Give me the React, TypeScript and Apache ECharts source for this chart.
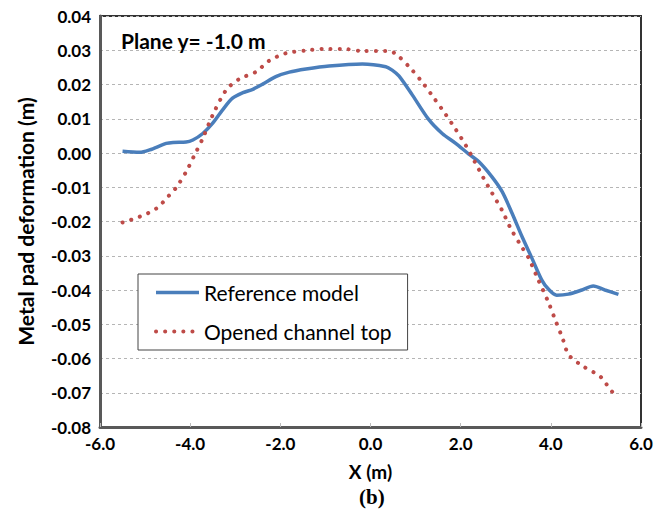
import React, { useEffect, useRef } from "react";
import * as echarts from "echarts";

const refX = [-5.5, -5.12, -4.9, -4.53, -4.38, -4.09, -3.94, -3.72, -3.5, -3.28, -3.06, -2.83, -2.61, -2.39, -2.1, -1.8, -1.43, -0.92, -0.18, 0.34, 0.48, 0.63, 0.93, 1.29, 1.59, 1.89, 2.18, 2.4, 2.69, 2.92, 3.14, 3.36, 3.58, 3.8, 3.95, 4.13, 4.39, 4.69, 4.94, 5.2, 5.5];
const refY = [0.0005, 0.0002, 0.0009, 0.0028, 0.0031, 0.0032, 0.0038, 0.0057, 0.0087, 0.0126, 0.016, 0.0176, 0.0186, 0.0201, 0.0223, 0.0236, 0.0245, 0.0254, 0.026, 0.0252, 0.0242, 0.0225, 0.0169, 0.0098, 0.0057, 0.0028, -0.0003, -0.0025, -0.0069, -0.0113, -0.0176, -0.0244, -0.0307, -0.0371, -0.0398, -0.0415, -0.0412, -0.04, -0.0388, -0.04, -0.0413];

const openX = [-5.5, -5.12, -4.75, -4.46, -4.31, -4.09, -3.9, -3.72, -3.5, -3.2, -2.91, -2.54, -2.25, -1.88, -1.43, -1.03, -0.62, -0.18, 0.41, 0.59, 0.89, 1.17, 1.41, 1.65, 1.89, 2.11, 2.31, 2.51, 2.7, 2.92, 3.1, 3.32, 3.51, 3.69, 3.95, 4.1, 4.26, 4.4, 4.73, 5.1, 5.36, 5.5];
const openY = [-0.0203, -0.0186, -0.0162, -0.0123, -0.0101, -0.0055, -0.0005, 0.0043, 0.0111, 0.0184, 0.0216, 0.0237, 0.0269, 0.0291, 0.0299, 0.0304, 0.0304, 0.0298, 0.0298, 0.0286, 0.0247, 0.0203, 0.016, 0.0116, 0.0069, 0.0023, -0.0025, -0.0074, -0.0118, -0.0168, -0.0218, -0.0267, -0.0307, -0.0361, -0.0437, -0.0488, -0.0541, -0.059, -0.0624, -0.0653, -0.0697, -0.0705];

const seriesNames = ["Reference model", "Opened channel top"];
const xTitle = "X (m)";
const yTitle = "Metal pad deformation (m)";
const planeLabel = "Plane y= -1.0 m";
const panelLabel = "(b)";

const FONT = "Lato";
const BLUE = "#4a7ebb";
const RED = "#be4b48";

export default function App() {
  const ref = useRef<HTMLDivElement>(null);
  useEffect(() => {
    if (!ref.current) return;
    const chart = echarts.init(ref.current, undefined, { renderer: "svg" });
    chart.setOption({
      animation: false,
      backgroundColor: "#ffffff",
      textStyle: { fontFamily: FONT },
      grid: {
        left: 100, top: 16, right: 18, bottom: 93,
        show: true, borderColor: "#333333", borderWidth: 2, backgroundColor: "transparent",
      },
      xAxis: {
        type: "value", min: -6, max: 6, interval: 2,
        name: xTitle, nameLocation: "middle", nameGap: 33,
        nameTextStyle: { fontFamily: FONT, fontWeight: "bold", fontSize: 19, color: "#000", lineHeight: 22 },
        axisLine: { show: true, onZero: false, lineStyle: { color: "#595959", width: 3 } },
        axisTick: { show: true, inside: true, length: 4, lineStyle: { color: "#bbbbbb", width: 1 } },
        splitLine: { show: false },
        axisLabel: {
          formatter: (v: number) => v.toFixed(1), fontFamily: FONT, fontWeight: "bold",
          fontSize: 17, color: "#000", margin: 8,
        },
      },
      yAxis: {
        type: "value", min: -0.08, max: 0.04, interval: 0.01,
        name: yTitle, nameLocation: "middle", nameGap: 64, nameRotate: 90,
        nameTextStyle: { fontFamily: FONT, fontWeight: "bold", fontSize: 21, color: "#000" },
        axisLine: { show: true, onZero: false, lineStyle: { color: "#595959", width: 3 } },
        axisTick: { show: false },
        splitLine: { show: true, lineStyle: { color: "#b5b5b5", type: [3, 3], width: 1 } },
        axisLabel: {
          formatter: (v: number) => v.toFixed(2), fontFamily: FONT, fontWeight: "bold",
          fontSize: 17, color: "#000", margin: 9,
        },
      },
      legend: {
        orient: "vertical", left: 138, top: 274,
        backgroundColor: "#fff", borderColor: "#444", borderWidth: 1,
        padding: [8, 16, 8, 16], itemGap: 18, itemWidth: 43, itemHeight: 14,
        itemStyle: { opacity: 0 },
        textStyle: { fontFamily: FONT, fontSize: 21, color: "#000" },
        data: [
          { name: seriesNames[0], lineStyle: { color: BLUE, width: 3.5, type: "solid" } },
          { name: seriesNames[1], lineStyle: { color: RED, width: 4, type: [0.1, 9], cap: "round" } },
        ],
      },
      graphic: [
        {
          type: "text", left: 121, top: 30,
          style: { text: planeLabel, fontFamily: FONT, fontWeight: "bold", fontSize: 21, fill: "#000" },
        },
        {
          type: "text", left: 359, top: 486,
          style: { text: panelLabel, fontFamily: "Liberation Serif", fontWeight: "bold", fontSize: 21, fill: "#000", lineHeight: 20 },
        },
      ],
      series: [
        {
          name: seriesNames[0], type: "line", symbol: "none", smooth: 0.3,
          data: refX.map((x, i) => [x, refY[i]]),
          lineStyle: { color: BLUE, width: 3.5 },
          itemStyle: { color: BLUE },
          z: 3,
        },
        {
          name: seriesNames[1], type: "line", symbol: "none", smooth: 0.3,
          data: openX.map((x, i) => [x, openY[i]]),
          lineStyle: { color: RED, width: 4, type: [0.1, 9], cap: "round" },
          itemStyle: { color: RED },
          z: 4,
        },
      ],
    });
    return () => chart.dispose();
  }, []);
  return <div ref={ref} style={{ width: 659, height: 520, position: "absolute", left: 0, top: 0 }} />;
}
